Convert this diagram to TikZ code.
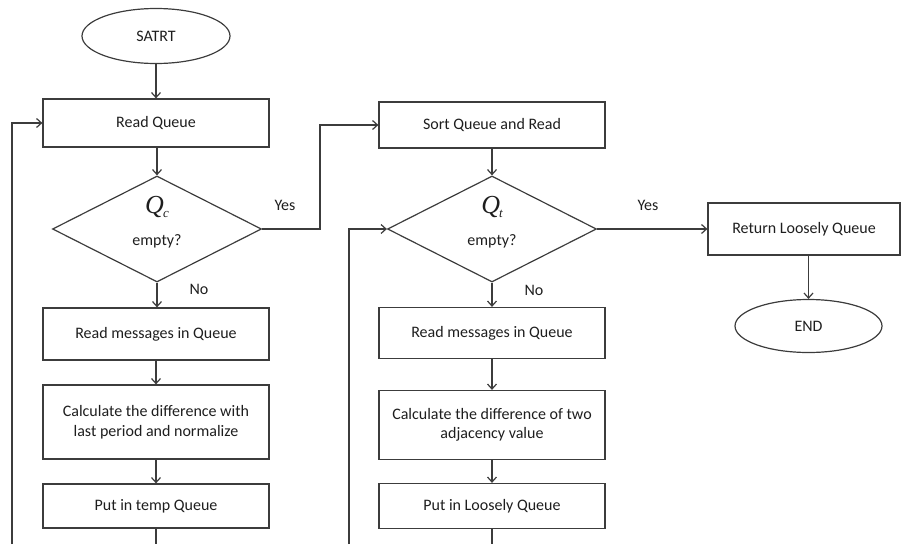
\documentclass[tikz,border=0pt]{standalone}
\usepackage{fontspec}
\setmainfont{Carlito}
\newfontfamily\tms{Liberation Serif}
\usetikzlibrary{shapes.geometric,arrows.meta}

\definecolor{ink}{HTML}{3C3C3C}
\definecolor{txt}{HTML}{1E1E1E}

% italic queue symbol with a subscript
\newcommand{\qsym}[1]{{\tms\itshape\fontsize{26}{26}\selectfont Q\kern-1pt\raisebox{-4pt}{\fontsize{13}{13}\selectfont #1}}}

\tikzset{
  box/.style={draw=ink, line width=1.2pt, rectangle, inner sep=2pt, align=center,
              text=txt, font=\fontsize{16}{19.5}\selectfont},
  term/.style={draw=ink, line width=1.2pt, ellipse, inner sep=0pt, text=txt,
               font=\fontsize{16}{19.5}\selectfont},
  decision/.style={draw=ink, line width=1.2pt, diamond, inner sep=0pt,
                   minimum width=209pt, minimum height=106pt},
  lbl/.style={text=txt, font=\fontsize{16}{19.5}\selectfont, inner sep=0pt},
  flow/.style={draw=ink, line width=1.2pt, -{Straight Barb[length=5pt,width=9pt,line width=1.2pt]}},
  wire/.style={draw=ink, line width=1.2pt}
}

\begin{document}
\begin{tikzpicture}[x=1pt,y=-1pt]
\useasboundingbox (0,0) rectangle (902,544);

% left column
\node[term, minimum width=148pt, minimum height=55pt] (start) at (156,36) {SATRT};
\node[box, minimum width=226pt, minimum height=48pt] (readq) at (156,123) {Read Queue};
\node[decision] (qc) at (157,229) {};
\node[lbl] (qclbl) at (157,207) {\qsym{c}};
\node[lbl] (qcempty) at (157,241) {empty?};
\node[box, minimum width=226pt, minimum height=52pt] (readm1) at (156,334) {Read messages in Queue};
\node[box, minimum width=226pt, minimum height=74pt] (calc1) at (156,422)
  {Calculate the difference with\\last period and normalize};
\node[box, minimum width=226pt, minimum height=44pt] (temp) at (156,506) {Put in temp Queue};

% middle column
\node[box, minimum width=226pt, minimum height=46pt] (sortq) at (492,125) {Sort Queue and Read};
\node[decision] (qt) at (492,229) {};
\node[lbl] (qtlbl) at (492,207) {\qsym{t}};
\node[lbl] (qtempty) at (492,241) {empty?};
\node[box, minimum width=226pt, minimum height=51pt] (readm2) at (492,333) {Read messages in Queue};
\node[box, minimum width=226pt, minimum height=69pt] (calc2) at (492,425)
  {Calculate the difference of two\\adjacency value};
\node[box, minimum width=226pt, minimum height=45pt] (loose) at (492,506) {Put in Loosely Queue};

% right column
\node[box, minimum width=192pt, minimum height=52pt] (ret) at (804,229) {Return Loosely Queue};
\node[term, minimum width=147pt, minimum height=53pt] (stop) at (808.5,326) {END};

% branch labels
\node[lbl] (yes1) at (285,205) {Yes};
\node[lbl] (no1) at (199,289) {No};
\node[lbl] (yes2) at (648,205) {Yes};
\node[lbl] (no2) at (534,290) {No};

% loose ends running off the bottom edge
\coordinate (temp-out) at (156,544);
\coordinate (loop1) at (12,544);
\coordinate (loose-out) at (492,544);
\coordinate (loop2) at (349,544);
\coordinate (jog) at (320,229);

% main flow
\draw[flow] (start) -- (readq);
\draw[flow] (readq.south -| qc.north) -- (qc.north);
\draw[flow] (qc.south) -- (readm1.north -| qc.south);
\draw[flow] (readm1) -- (calc1);
\draw[flow] (calc1) -- (temp);
\draw[wire] (temp.south) -- (temp-out);
\draw[flow] (loop1) |- (readq.west);

\draw[flow] (qc.east) -- (jog) |- (sortq.west);
\draw[flow] (sortq) -- (qt);
\draw[flow] (qt) -- (readm2);
\draw[flow] (readm2) -- (calc2);
\draw[flow] (calc2) -- (loose);
\draw[wire] (loose.south) -- (loose-out);
\draw[flow] (loop2) |- (qt.west);

\draw[flow] (qt.east) -- (ret.west);
\draw[flow] (stop.north |- ret.south) -- (stop.north);
\end{tikzpicture}
\end{document}
